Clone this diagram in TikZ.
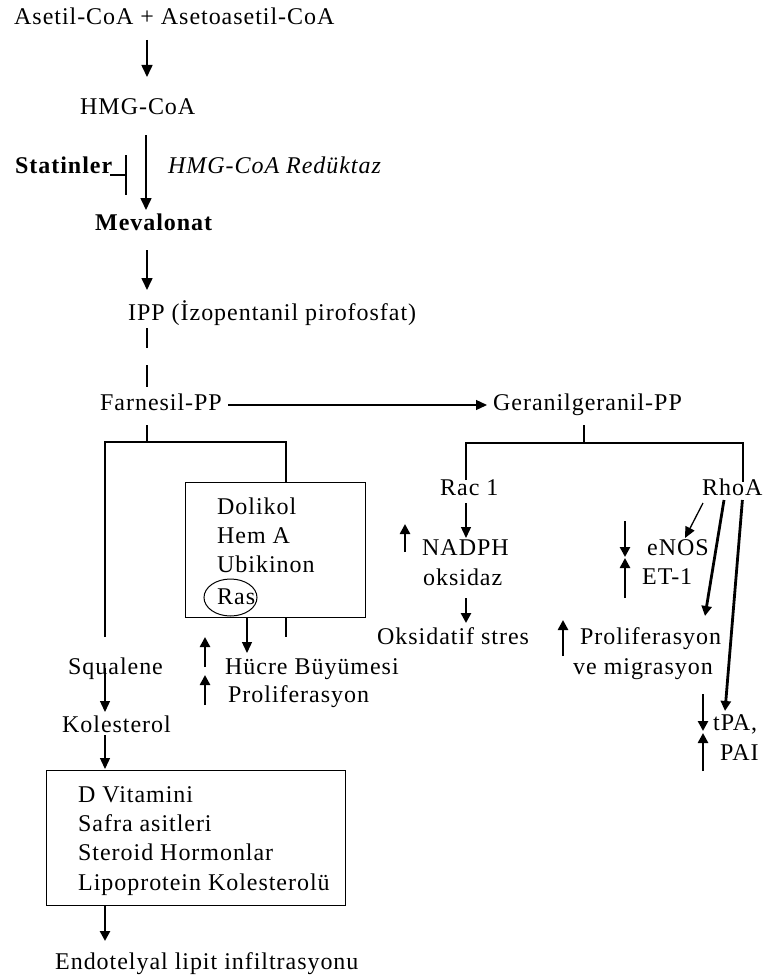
\documentclass[tikz,border=0pt]{standalone}
\usepackage{fontspec}
\setmainfont{Liberation Serif}[LetterSpace=4]
\usetikzlibrary{arrows.meta,shapes.geometric}
\begin{document}
\begin{tikzpicture}[x=1pt,y=-1pt,
  txt/.style={anchor=base west, inner sep=0pt, font=\fontsize{24}{28}\selectfont},
  txtb/.style={txt, font=\fontsize{24}{28}\selectfont\bfseries},
  txti/.style={txt, font=\fontsize{24}{28}\selectfont\itshape},
  ln/.style={line width=1.3pt},
  arr/.style={line width=1.3pt, -{Triangle[length=11pt,width=10pt]}},
  marr/.style={line width=1.6pt, -{Triangle[length=12pt,width=11pt]}},
  tarr/.style={line width=2.8pt, -{Triangle[length=10pt,width=10pt]}},
  boxst/.style={draw, line width=1.3pt, inner sep=0pt, anchor=north west}]
\useasboundingbox (0,0) rectangle (764,979);
% ---- nodes: left column
\node[txt]  (asetil) at (14,25)  {Asetil-CoA + Asetoasetil-CoA};
\node[txt]  (hmg)    at (80,115) {HMG-CoA};
\node[txtb] (statin) at (15,173) {Statinler};
\node[txti] (red)    at (168,173) {HMG-CoA Redüktaz};
\node[txtb] (meval)  at (95,230) {Mevalonat};
\node[txt]  (ipp)    at (128,320) {IPP (İzopentanil pirofosfat)};
\node[txt]  (farn)   at (100,410) {Farnesil-PP};
\node[txt]  (geran)  at (493,410) {Geranilgeranil-PP};
% box 1
\node[boxst, minimum width=180pt, minimum height=135pt] (box1) at (185,482) {};
\node[txt] (dol) at (217,514) {Dolikol};
\node[txt] (hem) at (217,543) {Hem A};
\node[txt] (ubi) at (217,572) {Ubikinon};
\node[txt] (ras) at (217,604) {Ras};
\node[draw, ellipse, line width=1pt, minimum width=53pt, minimum height=37pt, inner sep=0pt] (rasel) at (230.5,597.5) {};
\node[txt] (hucre)  at (225,674) {Hücre Büyümesi};
\node[txt] (prolA)  at (228,702) {Proliferasyon};
\node[txt] (squal)  at (68,674)  {Squalene};
\node[txt] (kol)    at (62,732)  {Kolesterol};
% box 2
\node[boxst, minimum width=299pt, minimum height=135pt] (box2) at (46,770) {};
\node[txt] (dvit)   at (78,802) {D Vitamini};
\node[txt] (safra)  at (78,831) {Safra asitleri};
\node[txt] (ster)   at (78,860) {Steroid Hormonlar};
\node[txt] (lipo)   at (78,890) {Lipoprotein Kolesterolü};
\node[txt] (endo)   at (55,969) {Endotelyal lipit infiltrasyonu};
% ---- right side
\node[txt] (rac)    at (440,495) {Rac 1};
\node[txt] (rhoa)   at (702,495) {RhoA};
\node[txt] (nadph)  at (422,555) {NADPH};
\node[txt] (oksd)   at (423,585) {oksidaz};
\node[txt] (okss)   at (377,644) {Oksidatif stres};
\node[txt] (enos)   at (647,555) {eNOS};
\node[txt] (et)     at (642,584) {ET-1};
\node[txt] (prolB)  at (580,644) {Proliferasyon};
\node[txt] (vemig)  at (573,674) {ve migrasyon};
\node[txt] (tpa)    at (713,730) {tPA,};
\node[txt] (pai)    at (720,760) {PAI};
% ---- coordinates
\coordinate (a1s) at (147,40);  \coordinate (a1e) at (147,77);
\coordinate (a2s) at (146,135); \coordinate (a2e) at (146,210);
\coordinate (a3s) at (147,250); \coordinate (a3e) at (147,290);
\coordinate (d1s) at (147,328); \coordinate (d1e) at (147,348);
\coordinate (d2s) at (147,365); \coordinate (d2e) at (147,387);
\coordinate (inh1) at (110,175); \coordinate (inh2) at (126,175);
\coordinate (inhT) at (126,155); \coordinate (inhB) at (126,195);
\coordinate (fgS) at (228,405); \coordinate (fgE) at (487,405);
\coordinate (fT) at (147,425); \coordinate (fM) at (147,442);
\coordinate (fL) at (105,442); \coordinate (fR) at (286,442);
\coordinate (fLb) at (105,637); \coordinate (fRb) at (286,482);
\coordinate (b1a) at (247,617); \coordinate (b1b) at (247,653);
\coordinate (b1c) at (286,617); \coordinate (b1d) at (286,637);
\coordinate (sq1) at (105,668); \coordinate (sq2) at (105,712);
\coordinate (ko1) at (105,735); \coordinate (ko2) at (105,769);
\coordinate (bx1) at (105,905); \coordinate (bx2) at (105,941);
\coordinate (uA1) at (205,667); \coordinate (uA2) at (205,637);
\coordinate (uB1) at (205,705); \coordinate (uB2) at (205,675);
\coordinate (gT) at (584,425); \coordinate (gM) at (584,443);
\coordinate (gL) at (466,443); \coordinate (gR) at (743,443);
\coordinate (gLb) at (466,480); \coordinate (gRb) at (743,482);
\coordinate (r1) at (466,503); \coordinate (r2) at (466,538);
\coordinate (uN1) at (405,552); \coordinate (uN2) at (405,524);
\coordinate (o1) at (466,598); \coordinate (o2) at (466,623);
\coordinate (e1) at (703,503); \coordinate (e2) at (685,538);
\coordinate (dE1) at (625,521); \coordinate (dE2) at (625,557);
\coordinate (uE1) at (625,598); \coordinate (uE2) at (625,558);
\coordinate (p1) at (724,500); \coordinate (p2) at (705,616);
\coordinate (t1) at (742.4,500); \coordinate (t2) at (725,711);
\coordinate (uP1) at (563,656); \coordinate (uP2) at (563,620);
\coordinate (dT1) at (703,694); \coordinate (dT2) at (703,731);
\coordinate (uT1) at (703,771); \coordinate (uT2) at (703,733);
% ---- connectors
\draw[marr] (a1s) -- (a1e);
\draw[marr] (a2s) -- (a2e);
\draw[marr] (a3s) -- (a3e);
\draw[ln] (d1s) -- (d1e);
\draw[ln] (d2s) -- (d2e);
\draw[ln] (inh1) -- (inh2);
\draw[ln] (inhT) -- (inhB);
\draw[arr] (fgS) -- (fgE);
\draw[ln] (fT) -- (fM);
\draw[ln] (fLb) -- (fL) -- (fR) -- (fRb);
\draw[arr] (b1a) -- (b1b);
\draw[ln] (b1c) -- (b1d);
\draw[arr] (sq1) -- (sq2);
\draw[arr] (ko1) -- (ko2);
\draw[tarr] (bx1) -- (bx2);
\draw[tarr] (uA1) -- (uA2);
\draw[tarr] (uB1) -- (uB2);
\draw[ln] (gT) -- (gM);
\draw[ln] (gLb) -- (gL) -- (gR) -- (gRb);
\draw[arr] (r1) -- (r2);
\draw[tarr] (uN1) -- (uN2);
\draw[tarr] (o1) -- (o2);
\draw[arr] (e1) -- (e2);
\draw[tarr] (dE1) -- (dE2);
\draw[tarr] (uE1) -- (uE2);
\draw[tarr] (p1) -- (p2);
\draw[tarr] (t1) -- (t2);
\draw[tarr] (uP1) -- (uP2);
\draw[tarr] (dT1) -- (dT2);
\draw[tarr] (uT1) -- (uT2);
\end{tikzpicture}
\end{document}
